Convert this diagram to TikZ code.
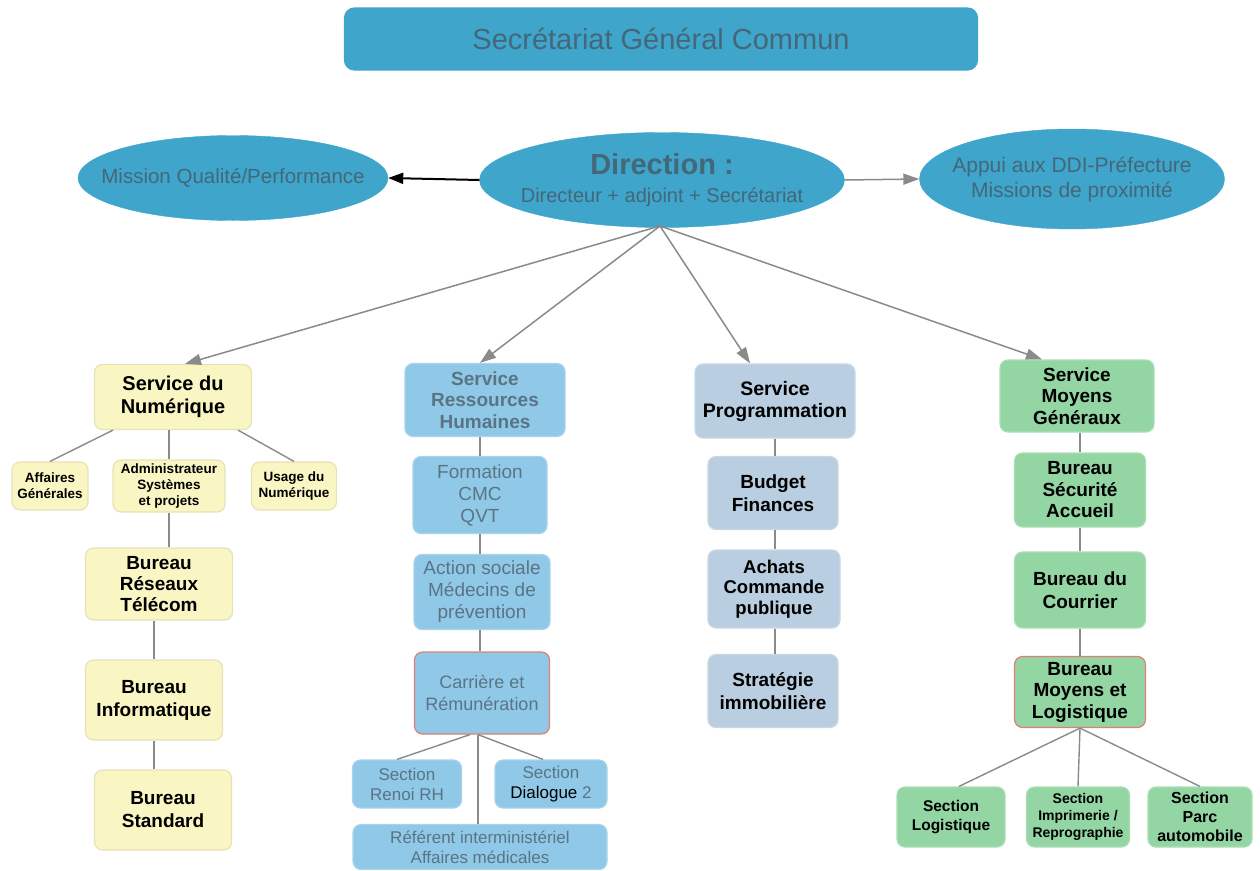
\documentclass[tikz,border=0pt]{standalone}
\usepackage{fontspec}
\setmainfont{Liberation Sans}
\usetikzlibrary{shapes.geometric,arrows.meta}
\definecolor{sgc}{HTML}{3FA5CB}
\definecolor{sgctext}{HTML}{44677A}
\definecolor{yelfill}{HTML}{FAF6C4}
\definecolor{yeldraw}{HTML}{E6E2B8}
\definecolor{bluefill}{HTML}{8FC9E7}
\definecolor{bluedraw}{HTML}{A9D3EC}
\definecolor{bluetext}{HTML}{5A7486}
\definecolor{grfill}{HTML}{B9CEE0}
\definecolor{grdraw}{HTML}{C9D8E4}
\definecolor{gnfill}{HTML}{93D6A4}
\definecolor{gndraw}{HTML}{A9DEB4}
\definecolor{redline}{HTML}{E07F74}
\definecolor{conn}{HTML}{8A8A8A}
\begin{document}
\begin{tikzpicture}[x=1pt,y=-1pt,
  sz/.style 2 args={minimum width=#1pt, minimum height=#2pt},
  fs/.style 2 args={font=\fontsize{#1}{#2}\selectfont},
  bfs/.style 2 args={font=\bfseries\fontsize{#1}{#2}\selectfont},
  box/.style={draw, rounded corners=8pt, align=center, inner sep=1pt, line width=1.2pt},
  yel/.style={box, fill=yelfill, draw=yeldraw, text=black, bfs={19}{21}},
  yelsmall/.style={yel, bfs={13.5}{16}},
  blu/.style={box, fill=bluefill, draw=bluedraw, text=bluetext, fs={19}{22}},
  blusmall/.style={blu, fs={17}{20}},
  gry/.style={box, fill=grfill, draw=grdraw, text=black, bfs={19}{21}},
  grn/.style={box, fill=gnfill, draw=gndraw, text=black, bfs={19}{21.5}},
  redb/.style={draw=redline},
  ell/.style={ellipse, fill=sgc, draw=sgc, inner sep=0pt},
  elltext/.style={text=sgctext, align=center, inner sep=0pt},
  link/.style={draw=conn, line width=1.4pt},
  arr/.style={draw=conn, line width=1.5pt, -{Triangle[length=16pt,width=11pt]}}
]
\useasboundingbox (0,0) rectangle (1260,870);

% title
\node[box, fill=sgc, draw=sgc, rounded corners=10pt, text=sgctext, sz={633}{62},
  fs={29}{32}] (sgc) at (661,39) {Secrétariat Général Commun};

% ellipses
\node[ell, sz={310}{85}] (mission) at (233,178) {};
\node[elltext, fs={20.5}{26}] (missiontxt) at (mission.center) {Mission Qualité/Performance};
\node[ell, sz={365}{95}] (dir) at (662,180) {};
\node[elltext, fs={20}{28}] (dirtxt) at (dir.center)
  {{\bfseries\fontsize{29}{32}\selectfont Direction :}\\
   Directeur + adjoint + Secrétariat};
\node[ell, sz={305}{100}] (appui) at (1072,179) {};
\node[elltext, fs={21}{25}] (appuitxt) at (appui.center)
  {Appui aux DDI-Préfecture\\Missions de proximité};

% column 1 (yellow)
\node[yel, sz={157}{65}, bfs={20}{23}] (num) at (173,397) {Service du\\Numérique};
\node[yelsmall, sz={76}{48}] (affg) at (50,486) {Affaires\\Générales};
\node[yelsmall, sz={112}{52}] (adm) at (169,486) {Administrateur\\Systèmes\\et projets};
\node[yelsmall, sz={85}{48}] (usage) at (294,486) {Usage du\\Numérique};
\node[yel, sz={147}{72}] (reseau) at (159,584) {Bureau\\Réseaux\\Télécom};
\node[yel, sz={137}{80}, bfs={19}{23}] (info) at (154,700) {Bureau\\Informatique};
\node[yel, sz={137}{80}, bfs={19}{23}] (std) at (163,810) {Bureau\\Standard};

% column 2 (blue)
\node[blu, sz={160}{73}, bfs={19}{21.5}] (srh) at (485,400) {Service\\Ressources\\Humaines};
\node[blu, sz={134}{77}] (form) at (480,495) {Formation\\CMC\\QVT};
\node[blu, sz={136}{75}, fs={19}{22}] (action) at (482,592) {Action sociale\\Médecins de\\prévention};
\node[blu, redb, sz={135}{82}, fs={18}{22}] (carr) at (482,693) {Carrière et\\Rémunération};
\node[blusmall, sz={109}{48}] (renoi) at (407,784) {Section\\Renoi RH};
\node[blusmall, sz={112}{48}] (dial) at (551,784) {Section\\\textcolor{black}{Dialogue} 2};
\node[blusmall, sz={254}{45}, fs={17}{20}] (ref) at (480,847) {Référent interministériel\\Affaires médicales};

% column 3 (grey-blue)
\node[gry, sz={160}{74}, bfs={19.5}{22}] (prog) at (775,401) {Service\\Programmation};
\node[gry, sz={130}{73}, bfs={19}{23}] (budget) at (773,493) {Budget\\Finances};
\node[gry, sz={132}{78}, bfs={18.5}{20.5}] (achats) at (774,589) {Achats\\Commande\\publique};
\node[gry, sz={130}{73}, bfs={19}{23}] (strat) at (773,691) {Stratégie\\immobilière};

% column 4 (green)
\node[grn, sz={154}{72}] (smg) at (1077,396) {Service\\Moyens\\Généraux};
\node[grn, sz={131}{74}] (secu) at (1080,490) {Bureau\\Sécurité\\Accueil};
\node[grn, sz={131}{76}, bfs={19}{23}] (cour) at (1080,590) {Bureau du\\Courrier};
\node[grn, redb, sz={131}{71}] (moyens) at (1080,692) {Bureau\\Moyens et\\Logistique};
\node[grn, sz={108}{60}, bfs={15.5}{19}] (slog) at (951,817) {Section\\Logistique};
\node[grn, sz={103}{60}, bfs={14}{17}] (simp) at (1078,817) {Section\\Imprimerie /\\Reprographie};
\node[grn, sz={104}{60}, bfs={16}{19}] (sparc) at (1200,817) {Section\\Parc\\automobile};

% top arrows
\draw[line width=2pt, -{Triangle[length=15pt,width=11pt]}] (dir.west) -- (mission.east);
\draw[arr] (dir.east) -- (appui.west);
\coordinate (dirb) at (660,226);
\draw[arr] (dirb) -- ([xshift=12pt]num.north);
\draw[arr] (dirb) -- ([xshift=-5pt]srh.north);
\draw[arr] (dirb) -- ([xshift=-25pt]prog.north);
\draw[arr] (dirb) -- ([xshift=-35pt]smg.north);

% column 1 links
\draw[link] ([xshift=-60pt]num.south) -- (affg.north);
\draw[link] ([xshift=-4pt]num.south) -- (adm.north);
\draw[link] ([xshift=65pt]num.south) -- (usage.north);
\draw[link] (adm.south) -- (adm.south |- reseau.north);
\draw[link] (info.north |- reseau.south) -- (info.north);
\draw[link] (info.south) -- (info.south |- std.north);

% column 2 links
\draw[link] (srh.south -| form.north) -- (form.north);
\draw[link] (form.south) -- (form.south |- action.north);
\draw[link] (form.south |- action.south) -- (form.south |- carr.north);
\draw[link] ([xshift=-12pt]carr.south) -- ([xshift=-10pt]renoi.north);
\draw[link] ([xshift=-4pt]carr.south) -- ([xshift=-8pt]dial.north);
\draw[link] ([xshift=-4pt]carr.south) -- ([xshift=-4pt]carr.south |- ref.north);

% column 3 links
\draw[link] (prog.south) -- (prog.south |- budget.north);
\draw[link] (prog.south |- budget.south) -- (prog.south |- achats.north);
\draw[link] (prog.south |- achats.south) -- (prog.south |- strat.north);

% column 4 links
\draw[link] (smg.south -| secu.north) -- (secu.north);
\draw[link] (secu.south) -- (cour.north);
\draw[link] (cour.south) -- (moyens.north);
\draw[link] (moyens.south) -- ([xshift=8pt]slog.north);
\draw[link] (moyens.south) -- (simp.north);
\draw[link] (moyens.south) -- (sparc.north);
\end{tikzpicture}
\end{document}
